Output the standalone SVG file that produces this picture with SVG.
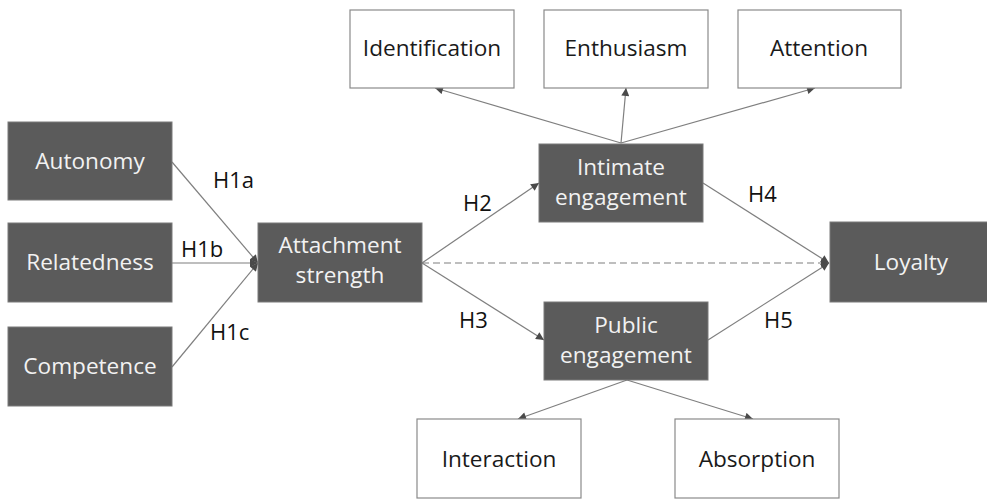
<svg xmlns="http://www.w3.org/2000/svg" width="987" height="499" viewBox="0 0 987 499">
<style>
.dark{fill:#5b5b5b;stroke:#7a7a7a;stroke-width:1}
.light{fill:#ffffff;stroke:#8a8a8a;stroke-width:1.2}
.t{font-family:"Open Sans","Liberation Sans",sans-serif;font-size:22.6px;text-anchor:middle}
.tw{fill:#f2f2f2}
.tb{fill:#1a1a1a}
.lbl{font-family:"Open Sans","Liberation Sans",sans-serif;font-size:22px;fill:#111111}
.c{stroke:#7f7f7f;stroke-width:1.2;fill:none}
.dash{stroke-dasharray:7 4}
</style>
<defs>
<marker id="ah" viewBox="0 0 10 10" refX="10" refY="5" markerUnits="userSpaceOnUse" markerWidth="10" markerHeight="8" orient="auto">
<path d="M0,0 L10,5 L0,10 z" fill="#4a4a4a"/>
</marker>
</defs>
<rect width="987" height="499" fill="#ffffff"/>
<g id="connectors">
<line class="c" x1="172" y1="162" x2="258" y2="263" marker-end="url(#ah)"/>
<line class="c" x1="172" y1="263" x2="258" y2="263" marker-end="url(#ah)"/>
<line class="c" x1="172" y1="367" x2="258" y2="263" marker-end="url(#ah)"/>
<line class="c" x1="422" y1="263" x2="539" y2="183" marker-end="url(#ah)"/>
<line class="c" x1="422" y1="263" x2="544" y2="340" marker-end="url(#ah)"/>
<line class="c dash" x1="422" y1="263" x2="829" y2="263" marker-end="url(#ah)"/>
<line class="c" x1="703" y1="183" x2="829" y2="263" marker-end="url(#ah)"/>
<line class="c" x1="708" y1="340" x2="829" y2="263" marker-end="url(#ah)"/>
<line class="c" x1="621" y1="143" x2="435" y2="88" marker-end="url(#ah)"/>
<line class="c" x1="621" y1="143" x2="626" y2="88" marker-end="url(#ah)"/>
<line class="c" x1="621" y1="143" x2="815" y2="88" marker-end="url(#ah)"/>
<line class="c" x1="627" y1="380" x2="518" y2="419" marker-end="url(#ah)"/>
<line class="c" x1="627" y1="380" x2="753" y2="419" marker-end="url(#ah)"/>
<text class="lbl" x="213" y="188">H1a</text>
<text class="lbl" x="181" y="257">H1b</text>
<text class="lbl" x="210" y="340">H1c</text>
<text class="lbl" x="463" y="211">H2</text>
<text class="lbl" x="459" y="328">H3</text>
<text class="lbl" x="748" y="202">H4</text>
<text class="lbl" x="764" y="328">H5</text>
</g>
<g id="autonomy"><rect class="dark" x="8" y="122" width="164" height="78"/><text class="t tw" x="90" y="169">Autonomy</text></g>
<g id="relatedness"><rect class="dark" x="8" y="223" width="164" height="79"/><text class="t tw" x="90" y="270">Relatedness</text></g>
<g id="competence"><rect class="dark" x="8" y="327" width="164" height="79"/><text class="t tw" x="90" y="374">Competence</text></g>
<g id="attachment"><rect class="dark" x="258" y="223" width="164" height="79"/><text class="t tw" x="340" y="253">Attachment</text><text class="t tw" x="340" y="283">strength</text></g>
<g id="intimate"><rect class="dark" x="539" y="144" width="164" height="78"/><text class="t tw" x="621" y="175">Intimate</text><text class="t tw" x="621" y="205">engagement</text></g>
<g id="public"><rect class="dark" x="544" y="302" width="164" height="78"/><text class="t tw" x="626" y="333">Public</text><text class="t tw" x="626" y="363">engagement</text></g>
<g id="loyalty"><rect class="dark" x="830" y="222" width="164" height="80"/><text class="t tw" x="911" y="270">Loyalty</text></g>
<g id="identification"><rect class="light" x="350" y="10" width="164" height="78"/><text class="t tb" x="432" y="56">Identification</text></g>
<g id="enthusiasm"><rect class="light" x="544" y="10" width="164" height="78"/><text class="t tb" x="626" y="56">Enthusiasm</text></g>
<g id="attention"><rect class="light" x="738" y="10" width="163" height="78"/><text class="t tb" x="819" y="56">Attention</text></g>
<g id="interaction"><rect class="light" x="417" y="419" width="164" height="79"/><text class="t tb" x="499" y="467">Interaction</text></g>
<g id="absorption"><rect class="light" x="675" y="419" width="164" height="79"/><text class="t tb" x="757" y="467">Absorption</text></g>
</svg>
